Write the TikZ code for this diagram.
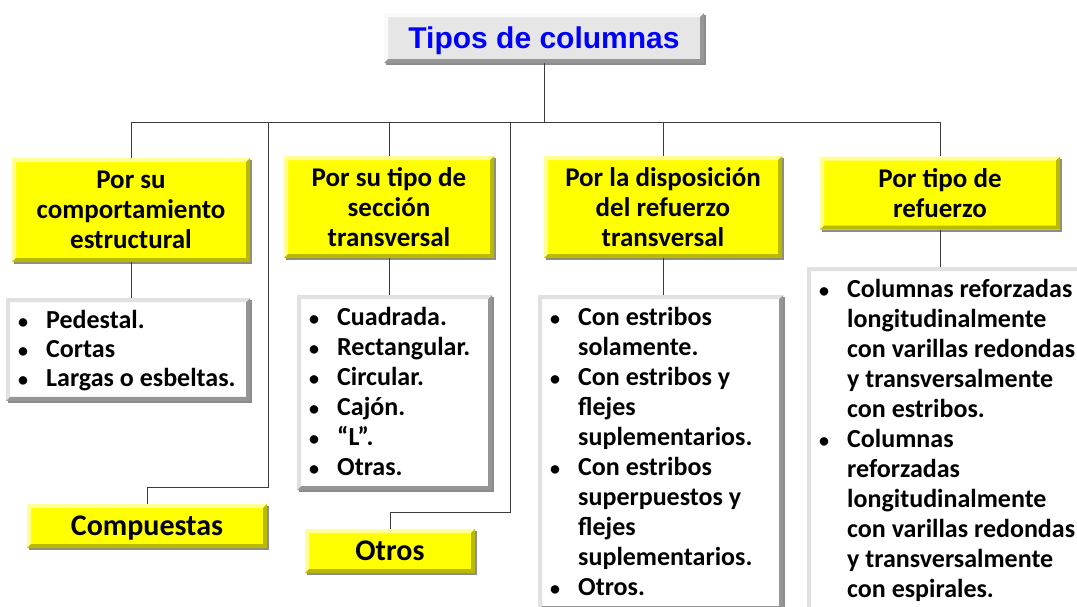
\documentclass[tikz,border=0pt]{standalone}
\usepackage{fontspec}
\setmainfont{Carlito}
\newfontfamily\titlefont{Liberation Sans}
\usetikzlibrary{shadows}

\definecolor{boxyellow}{RGB}{255,255,0}
\definecolor{yellowlight}{RGB}{255,255,150}
\definecolor{yellowdark}{RGB}{185,185,0}
\definecolor{titlegray}{RGB}{230,230,230}
\definecolor{graylight}{RGB}{250,250,250}
\definecolor{graydark}{RGB}{150,150,150}
\definecolor{listlight}{RGB}{225,225,225}
\definecolor{titleblue}{RGB}{0,0,255}
\definecolor{linegray}{RGB}{60,60,60}

\newcommand\itm{{\fontsize{20}{30}\selectfont\textbullet}}
\newcommand\toprow{\rule{0pt}{24pt}}

\tikzset{
  bevel/.style 2 args={path picture={
    \path (path picture bounding box.north west) coordinate (p1)
          (path picture bounding box.north east) coordinate (p2)
          (path picture bounding box.south east) coordinate (p3)
          (path picture bounding box.south west) coordinate (p4);
    \fill[#1] (p4) -- (p1) -- (p2) -- ([shift={(-4pt,-4pt)}]p2)
              -- ([shift={(4pt,-4pt)}]p1) -- ([shift={(4pt,4pt)}]p4) -- cycle;
    \fill[#2] (p4) -- (p3) -- (p2) -- ([shift={(-4pt,-4pt)}]p2)
              -- ([shift={(-4pt,4pt)}]p3) -- ([shift={(4pt,4pt)}]p4) -- cycle;
  }},
  shade/.style={drop shadow={shadow xshift=2pt, shadow yshift=-2pt,
                             opacity=.45, fill=black}}
}

\begin{document}
\begin{tikzpicture}[
  x=1pt, y=-1pt,
  tbox/.style = {fill=titlegray, bevel={graylight}{graydark}, shade,
                 font=\titlefont\bfseries\fontsize{30}{34}\selectfont,
                 text=titleblue, text depth=0pt, inner sep=0pt},
  ybox/.style = {fill=boxyellow, bevel={yellowlight}{yellowdark}, shade,
                 font=\bfseries\fontsize{27}{30}\selectfont,
                 align=center, inner sep=0pt},
  bigy/.style = {ybox, font=\bfseries\fontsize{30}{34}\selectfont, text depth=0pt},
  lbox/.style = {fill=white, bevel={listlight}{graydark}, shade,
                 anchor=north west, align=left,
                 font=\bfseries\fontsize{26}{30}\selectfont,
                 inner xsep=12pt, inner ysep=6pt},
  lnk/.style  = {draw=linegray, line width=0.8pt},
]
\useasboundingbox (0,0) rectangle (1077,606);

% Title
\node[tbox, minimum width=320pt, minimum height=50pt] (tipos) at (544,38) {Tipos de columnas};

% Row 1 - yellow headers
\node[ybox, minimum width=238pt, minimum height=104pt] (comp) at (131,210)
  {Por su\\comportamiento\\estructural};
\node[ybox, minimum width=210pt, minimum height=102pt] (secc) at (389,207)
  {Por su tipo de\\secci\'on\\transversal};
\node[ybox, minimum width=238pt, minimum height=102pt] (disp) at (663,207)
  {Por la disposici\'on\\del refuerzo\\transversal};
\node[ybox, minimum width=240pt, minimum height=73pt] (refz) at (940,193)
  {Por tipo de\\refuerzo};

% Row 2 - lists
\node[lbox, text width=220pt, font=\bfseries\fontsize{26}{29}\selectfont] (lst1) at (6,298)
  {\spaceskip=0pt\begin{tabular}{@{}p{28pt}@{}l@{}}
   \itm & \toprow Pedestal.\\
   \itm & Cortas\\
   \itm & Largas o esbeltas.
   \end{tabular}};
\node[lbox, text width=171pt] (lst2) at (297,295)
  {\spaceskip=0pt\begin{tabular}{@{}p{28pt}@{}l@{}}
   \itm & \toprow Cuadrada.\\
   \itm & Rectangular.\\
   \itm & Circular.\\
   \itm & Caj\'on.\\
   \itm & ``L''.\\
   \itm & Otras.
   \end{tabular}};
\node[lbox, text width=221pt] (lst3) at (538,295)
  {\spaceskip=0pt\begin{tabular}{@{}p{28pt}@{}l@{}}
   \itm & \toprow Con estribos\\
        & solamente.\\
   \itm & Con estribos y\\
        & flejes\\
        & suplementarios.\\
   \itm & Con estribos\\
        & superpuestos y\\
        & flejes\\
        & suplementarios.\\
   \itm & Otros.
   \end{tabular}};
\node[lbox, text width=266pt] (lst4) at (807,267)
  {\spaceskip=0pt\begin{tabular}{@{}p{28pt}@{}l@{}}
   \itm & \toprow Columnas reforzadas\\
        & longitudinalmente\\
        & con varillas redondas\\
        & y transversalmente\\
        & con estribos.\\
   \itm & Columnas\\
        & reforzadas\\
        & longitudinalmente\\
        & con varillas redondas\\
        & y transversalmente\\
        & con espirales.
   \end{tabular}};

% Row 3 - loose boxes
\node[bigy, minimum width=240pt, minimum height=44pt] (compu) at (147,526) {Compuestas};
\node[bigy, minimum width=170pt, minimum height=44pt] (otros) at (390,551) {Otros};

% Connectors
\coordinate (bus) at (544,122);
\coordinate (jc) at (268,122);
\coordinate (kc) at (268,487);
\coordinate (jo) at (510,122);
\coordinate (ko) at (510,512);
\draw[lnk] (tipos) -- (bus);
\draw[lnk] (comp.north |- bus) -- (refz.north |- bus);
\draw[lnk] (comp.north |- bus) -- (comp.north);
\draw[lnk] (secc.north |- bus) -- (secc.north);
\draw[lnk] (disp.north |- bus) -- (disp.north);
\draw[lnk] (refz.north |- bus) -- (refz.north);
\draw[lnk] (comp.south) -- (comp.south |- lst1.north);
\draw[lnk] (secc.south) -- (secc.south |- lst2.north);
\draw[lnk] (disp.south) -- (disp.south |- lst3.north);
\draw[lnk] (refz.south) -- (refz.south |- lst4.north);
\draw[lnk] (jc) -- (kc) -| (compu.north);
\draw[lnk] (jo) -- (ko) -| (otros.north);
\end{tikzpicture}
\end{document}
